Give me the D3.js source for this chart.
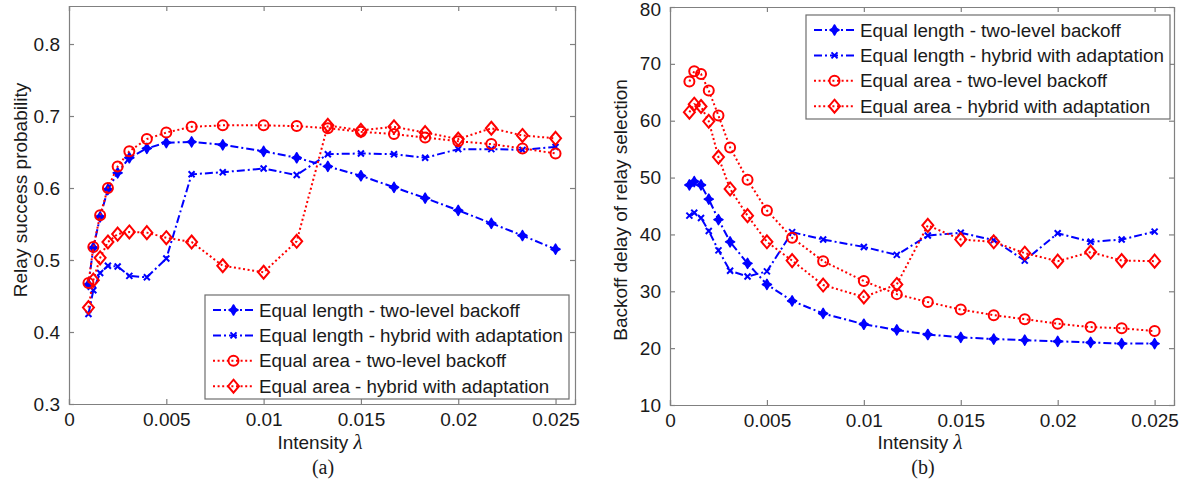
<!DOCTYPE html>
<html>
<head>
<meta charset="utf-8">
<script src="https://cdn.jsdelivr.net/npm/d3@7"></script>
<style>
  html, body { margin: 0; padding: 0; background: #fff; }
  svg { display: block; }
  svg text { fill: #1a1a1a; }
</style>
</head>
<body>
<svg id="fig" width="1187" height="482"></svg>
<script>
// Node intensity (x values shared by every curve)
const intensity = [0.001, 0.00125, 0.0016, 0.002, 0.0025, 0.0031, 0.004, 0.005, 0.0063, 0.0079,
                   0.01, 0.0117, 0.0133, 0.015, 0.0167, 0.0183, 0.02, 0.0217, 0.0233, 0.025];

// (a) relay success probability
const successLenTwoLevel = [0.466, 0.517, 0.560, 0.598, 0.621, 0.642, 0.655, 0.663, 0.664, 0.660,
                            0.651, 0.642, 0.630, 0.617, 0.601, 0.586, 0.569, 0.551, 0.534, 0.515];
const successLenHybrid   = [0.425, 0.458, 0.482, 0.492, 0.491, 0.478, 0.476, 0.502, 0.619, 0.622,
                            0.627, 0.618, 0.647, 0.648, 0.647, 0.642, 0.654, 0.654, 0.653, 0.657];
const successAreaTwoLevel = [0.468, 0.518, 0.562, 0.600, 0.630, 0.651, 0.668, 0.677, 0.685, 0.687,
                             0.687, 0.686, 0.683, 0.678, 0.675, 0.670, 0.665, 0.661, 0.655, 0.648];
const successAreaHybrid   = [0.434, 0.472, 0.503, 0.525, 0.536, 0.539, 0.538, 0.531, 0.525, 0.492,
                             0.483, 0.526, 0.687, 0.680, 0.685, 0.677, 0.668, 0.683, 0.673, 0.669];

// (b) backoff delay of relay selection
const delayLenTwoLevel = [48.7, 49.3, 48.7, 46.2, 42.6, 38.7, 34.9, 31.2, 28.3, 26.1,
                          24.2, 23.2, 22.4, 21.9, 21.6, 21.4, 21.2, 21.0, 20.8, 20.8];
const delayLenHybrid   = [43.3, 43.8, 42.9, 40.6, 37.2, 33.6, 32.6, 33.5, 40.4, 39.1,
                          37.8, 36.4, 39.8, 40.3, 39.0, 35.4, 40.2, 38.7, 39.1, 40.5];
const delayAreaTwoLevel = [66.9, 68.7, 68.2, 65.3, 60.9, 55.3, 49.6, 44.2, 39.4, 35.3,
                           31.8, 29.5, 28.1, 26.8, 25.8, 25.1, 24.3, 23.7, 23.5, 23.0];
const delayAreaHybrid   = [61.5, 62.9, 62.5, 59.9, 53.6, 48.0, 43.3, 38.7, 35.4, 31.1,
                           29.0, 31.2, 41.6, 39.1, 38.7, 36.7, 35.3, 36.9, 35.4, 35.3];

// Axis ticks
const xTicks = [0, 0.005, 0.01, 0.015, 0.02, 0.025];
const xTickLabels = ["0", "0.005", "0.01", "0.015", "0.02", "0.025"];
const yTicksA = [0.3, 0.4, 0.5, 0.6, 0.7, 0.8];
const yTicksB = [10, 20, 30, 40, 50, 60, 70, 80];

const seriesNames = [
  "Equal length - two-level backoff",
  "Equal length - hybrid with adaptation",
  "Equal area - two-level backoff",
  "Equal area - hybrid with adaptation"
];

// Visual style of each curve
const styles = [
  { color: "#0000ff", dash: "8,3,2,3", marker: "filledDiamond" },
  { color: "#0000ff", dash: "8,3,2,3", marker: "cross" },
  { color: "#ff0000", dash: "2,2.6",   marker: "circle" },
  { color: "#ff0000", dash: "2,2.6",   marker: "diamond" }
];

const SANS = '"Liberation Sans", Arial, sans-serif';
const SERIF = '"Liberation Serif", "Times New Roman", serif';

const svg = d3.select("#fig");

function drawMarker(g, kind, color, x, y) {
  if (kind === "circle") {
    g.append("circle").attr("cx", x).attr("cy", y).attr("r", 5)
      .attr("fill", "none").attr("stroke", color).attr("stroke-width", 2);
  } else if (kind === "diamond") {
    g.append("path").attr("d", `M${x},${y - 6.5}L${x + 5.5},${y}L${x},${y + 6.5}L${x - 5.5},${y}Z`)
      .attr("fill", "none").attr("stroke", color).attr("stroke-width", 2);
  } else if (kind === "filledDiamond") {
    g.append("path").attr("d", `M${x},${y - 5}L${x + 2},${y - 1.5}L${x + 4.5},${y}L${x + 2},${y + 1.5}L${x},${y + 5}L${x - 2},${y + 1.5}L${x - 4.5},${y}L${x - 2},${y - 1.5}Z`)
      .attr("fill", color).attr("stroke", color).attr("stroke-width", 1.6).attr("stroke-linejoin", "round");
  } else if (kind === "cross") {
    g.append("path").attr("d", `M${x - 3},${y - 3}L${x + 3},${y + 3}M${x - 3},${y + 3}L${x + 3},${y - 3}`)
      .attr("fill", "none").attr("stroke", color).attr("stroke-width", 2);
  }
}

function panel(opts) {
  const { left, top, right, bottom, yDomain, yTicks, yFormat, data, yLabel, yLabelX, yLabelY, caption, legend } = opts;
  const x = d3.scaleLinear().domain([0, 0.026]).range([left, right]);
  const y = d3.scaleLinear().domain(yDomain).range([bottom, top]);
  const g = svg.append("g").style("font-family", SANS);

  // axes box with inward ticks on all four sides
  const axisColor = "#808080";
  const tl = 5;
  const axB = d3.axisBottom(x).tickValues(xTicks).tickSize(-tl).tickPadding(9)
    .tickFormat((d, i) => xTickLabels[i]);
  const axT = d3.axisTop(x).tickValues(xTicks).tickSize(-tl).tickFormat("");
  const axL = d3.axisLeft(y).tickValues(yTicks).tickSize(-tl).tickPadding(9).tickFormat(yFormat);
  const axR = d3.axisRight(y).tickValues(yTicks).tickSize(-tl).tickFormat("");
  [[axB, `translate(0,${bottom})`], [axT, `translate(0,${top})`],
   [axL, `translate(${left},0)`], [axR, `translate(${right},0)`]].forEach(([ax, tr]) => {
    const a = g.append("g").attr("transform", tr).call(ax);
    a.select(".domain").attr("stroke", axisColor).attr("stroke-width", 1.2);
    a.selectAll(".tick line").attr("stroke", axisColor).attr("stroke-width", 1.2);
    a.selectAll(".tick text").style("font-size", "19px").style("font-family", SANS)
      .attr("fill", "#1a1a1a");
  });
  // keep the topmost y label inside the page
  g.selectAll(".tick text").filter(d => d === yDomain[1]).attr("dy", "0.45em");

  // curves
  data.forEach((vals, si) => {
    const st = styles[si];
    const pts = intensity.map((xv, i) => [x(xv), y(vals[i])]);
    g.append("path").attr("d", d3.line()(pts))
      .attr("fill", "none").attr("stroke", st.color).attr("stroke-width", 2)
      .attr("stroke-dasharray", st.dash);
    const mg = g.append("g");
    pts.forEach(p => drawMarker(mg, st.marker, st.color, p[0], p[1]));
  });

  // legend
  const lg = g.append("g");
  lg.append("rect").attr("x", legend.x).attr("y", legend.y).attr("width", 364).attr("height", legend.h)
    .attr("fill", "#fff").attr("stroke", "#6e6e6e").attr("stroke-width", 1.2);
  seriesNames.forEach((name, i) => {
    const cy = legend.y + 15 + i * 25.4;
    const st = styles[i];
    lg.append("line").attr("x1", legend.x + 8).attr("x2", legend.x + 49).attr("y1", cy).attr("y2", cy)
      .attr("stroke", st.color).attr("stroke-width", 2).attr("stroke-dasharray", st.dash);
    drawMarker(lg, st.marker, st.color, legend.x + 28.5, cy);
    lg.append("text").attr("x", legend.x + 54).attr("y", cy).attr("dy", "0.35em")
      .style("font-size", "18.8px").text(name);
  });

  // axis titles
  const xl = g.append("text").attr("x", (left + right) / 2 - 2).attr("y", 449)
    .attr("text-anchor", "middle").style("font-size", "19px");
  xl.append("tspan").text("Intensity ");
  xl.append("tspan").style("font-family", SERIF).style("font-style", "italic")
    .style("font-size", "21px").text("λ");

  g.append("text").attr("transform", `translate(${yLabelX},${yLabelY}) rotate(-90)`)
    .attr("text-anchor", "middle").attr("dy", "0.35em").style("font-size", "19px").text(yLabel);

  g.append("text").attr("x", (left + right) / 2 + 1).attr("y", 474)
    .attr("text-anchor", "middle").style("font-size", "20px")
    .style("font-family", SERIF).text(caption);
}

panel({
  left: 69, top: 6, right: 575, bottom: 404,
  yDomain: [0.3, 0.8528], yTicks: yTicksA, yFormat: d3.format(".1f"),
  data: [successLenTwoLevel, successLenHybrid, successAreaTwoLevel, successAreaHybrid],
  yLabel: "Relay success probability", yLabelX: 20, yLabelY: 190,
  caption: "(a)",
  legend: { x: 205, y: 295, h: 104 }
});

panel({
  left: 670, top: 7, right: 1174, bottom: 405,
  yDomain: [10, 80], yTicks: yTicksB, yFormat: d3.format("d"),
  data: [delayLenTwoLevel, delayLenHybrid, delayAreaTwoLevel, delayAreaHybrid],
  yLabel: "Backoff delay of relay selection", yLabelX: 620, yLabelY: 210,
  caption: "(b)",
  legend: { x: 806, y: 15, h: 104 }
});
</script>
</body>
</html>
